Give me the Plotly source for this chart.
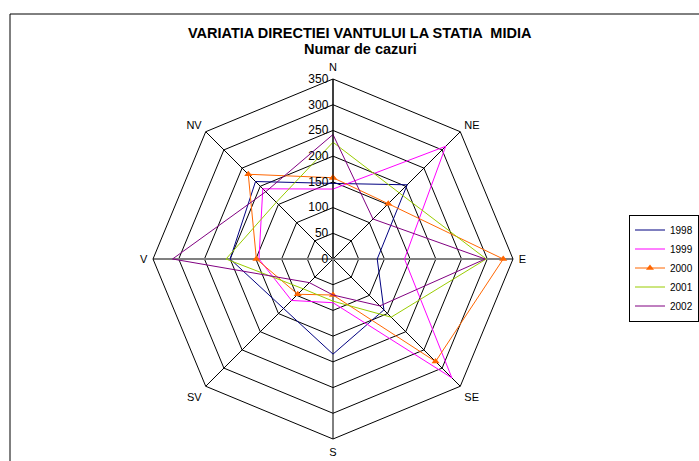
import plotly.graph_objects as go

directions = ["N", "NE", "E", "SE", "S", "SV", "V", "NV"]
years = ["1998", "1999", "2000", "2001", "2002"]
v1998 = [147, 204, 86, 140, 185, 136, 200, 213]
v1999 = [136, 310, 139, 327, 85, 114, 144, 193]
v2000 = [158, 152, 331, 282, 70, 97, 149, 233]
v2001 = [227, 182, 298, 160, 82, 82, 208, 156]
v2002 = [242, 110, 296, 129, 70, 65, 312, 185]
radial_ticks = [0, 50, 100, 150, 200, 250, 300, 350]

series = [v1998, v1999, v2000, v2001, v2002]
colors = ["#000080", "#FF00FF", "#FF6600", "#99CC00", "#800080"]

fig = go.Figure()

rmax = radial_ticks[-1]
fig.add_trace(go.Scatterpolar(
    r=[rmax, 0, rmax], theta=["E", "E", "V"], mode="lines",
    line=dict(color="#808080", width=2), showlegend=False, hoverinfo="skip"))

for name, vals, col in zip(years, series, colors):
    is_marker = name == "2000"
    fig.add_trace(go.Scatterpolar(
        r=vals + [vals[0]], theta=directions + [directions[0]],
        name=name,
        mode="lines+markers" if is_marker else "lines",
        line=dict(color=col, width=1),
        marker=dict(symbol="triangle-up", size=7, color=col) if is_marker else None,
    ))

font_family = "Liberation Sans, Arial, sans-serif"
R = 180
cx, cy = 333, 461 - 259
fig.update_layout(
    width=699, height=461,
    margin=dict(l=0, r=0, t=0, b=0),
    paper_bgcolor="white",
    plot_bgcolor="white",
    font=dict(family=font_family, size=11, color="black"),
    polar=dict(
        domain=dict(x=[(cx - R) / 699, (cx + R) / 699], y=[(cy - R) / 461, (cy + R) / 461]),
        gridshape="linear",
        bgcolor="white",
        angularaxis=dict(
            categoryorder="array", categoryarray=directions,
            rotation=90, direction="clockwise",
            showline=True, linecolor="black", linewidth=1,
            gridcolor="black", gridwidth=1,
            ticks="outside", ticklen=3, tickcolor="rgba(0,0,0,0)",
            tickfont=dict(size=11, family=font_family),
        ),
        radialaxis=dict(
            range=[0, rmax], tickvals=radial_ticks,
            angle=90, tickangle=90, side="counterclockwise",
            showline=True, linecolor="black", linewidth=1,
            gridcolor="black", gridwidth=1,
            ticks="", tickfont=dict(size=12, family=font_family),
        ),
    ),
    legend=dict(
        x=1, y=1 - 268 / 461, xanchor="right", yanchor="middle",
        bgcolor="white", bordercolor="black", borderwidth=1,
        font=dict(size=10, family=font_family),
        itemwidth=30, tracegroupgap=0,
    ),
    annotations=[
        dict(text="<b>VARIATIA DIRECTIEI VANTULUI LA STATIA  MIDIA</b>",
             x=360 / 699, y=1 - 33 / 461, xref="paper", yref="paper",
             xanchor="center", yanchor="middle",
             showarrow=False, font=dict(size=14.5, family=font_family)),
        dict(text="<b>Numar de cazuri</b>",
             x=360 / 699, y=1 - 49 / 461, xref="paper", yref="paper",
             xanchor="center", yanchor="middle",
             showarrow=False, font=dict(size=14.5, family=font_family)),
    ],
    shapes=[
        dict(type="rect", xref="paper", yref="paper",
             x0=10 / 699, x1=1.05, y0=-0.05, y1=1 - 14 / 461,
             line=dict(color="black", width=1), fillcolor="rgba(0,0,0,0)", layer="below"),
    ],
)

fig.write_html("out.html", config={"displayModeBar": False},
               post_script="document.body.style.margin='0';")
